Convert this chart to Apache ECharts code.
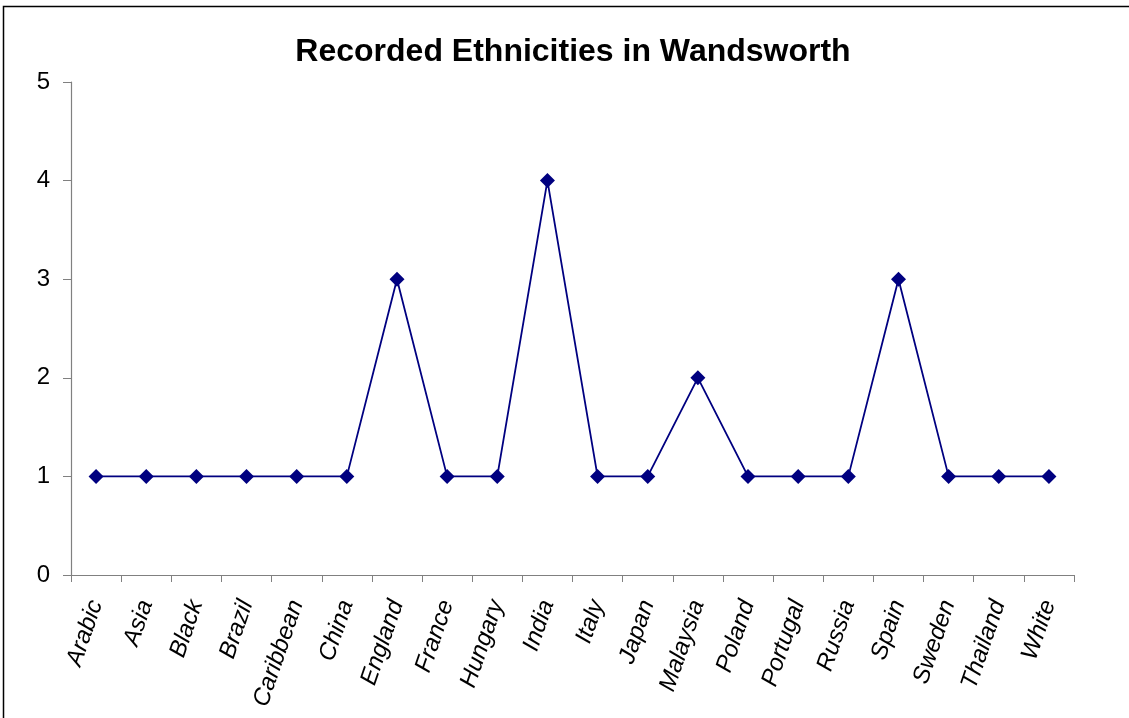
<!DOCTYPE html>
<html>
<head>
<meta charset="utf-8">
<script src="https://cdn.jsdelivr.net/npm/echarts@6/dist/echarts.min.js"></script>
<style>
html,body{margin:0;padding:0;background:#fff;}
#chart{width:1129px;height:718px;}
</style>
</head>
<body>
<div id="chart"></div>
<script>
const categories = ["Arabic","Asia","Black","Brazil","Caribbean","China","England","France","Hungary","India","Italy","Japan","Malaysia","Poland","Portugal","Russia","Spain","Sweden","Thailand","White"];
const values = [1,1,1,1,1,1,3,1,1,4,1,1,2,1,1,1,3,1,1,1];
const yTicks = [0,1,2,3,4,5];

const chart = echarts.init(document.getElementById('chart'));
chart.setOption({
  animation: false,
  backgroundColor: '#fff',
  title: {
    text: 'Recorded Ethnicities in Wandsworth',
    left: 568, textAlign: 'center', top: 31,
    textStyle: {fontFamily: 'Liberation Sans, Arial, sans-serif', fontSize: 32, fontWeight: 'bold', color: '#000'}
  },
  graphic: [{
    type: 'rect', shape: {x: 3.5, y: 6.5, width: 1300, height: 900},
    style: {fill: 'none', stroke: '#000', lineWidth: 1.5}, silent: true
  }],
  grid: {left: 71, right: 55, top: 82, bottom: 143, containLabel: false},
  xAxis: {
    type: 'category', data: categories, boundaryGap: true,
    axisLine: {lineStyle: {color: '#808080', width: 1.2}},
    axisTick: {show: true, alignWithLabel: false, length: 7, lineStyle: {color: '#808080'}},
    axisLabel: {rotate: 71, margin: 26, interval: 0, color: '#000', fontSize: 24, fontStyle: 'italic', fontFamily: 'Liberation Sans, Arial, sans-serif'}
  },
  yAxis: {
    type: 'value', min: yTicks[0], max: yTicks[yTicks.length-1], interval: 1,
    axisLine: {show: true, lineStyle: {color: '#808080', width: 1.2}},
    axisTick: {show: true, inside: false, length: 8, lineStyle: {color: '#808080'}},
    splitLine: {show: false},
    axisLabel: {margin: 21, color: '#000', fontSize: 24, fontFamily: 'Liberation Sans, Arial, sans-serif'}
  },
  series: [{
    type: 'line', data: values,
    symbol: 'diamond', symbolSize: 15,
    lineStyle: {color: '#000080', width: 1.8},
    itemStyle: {color: '#000080'}
  }]
});
</script>
</body>
</html>
